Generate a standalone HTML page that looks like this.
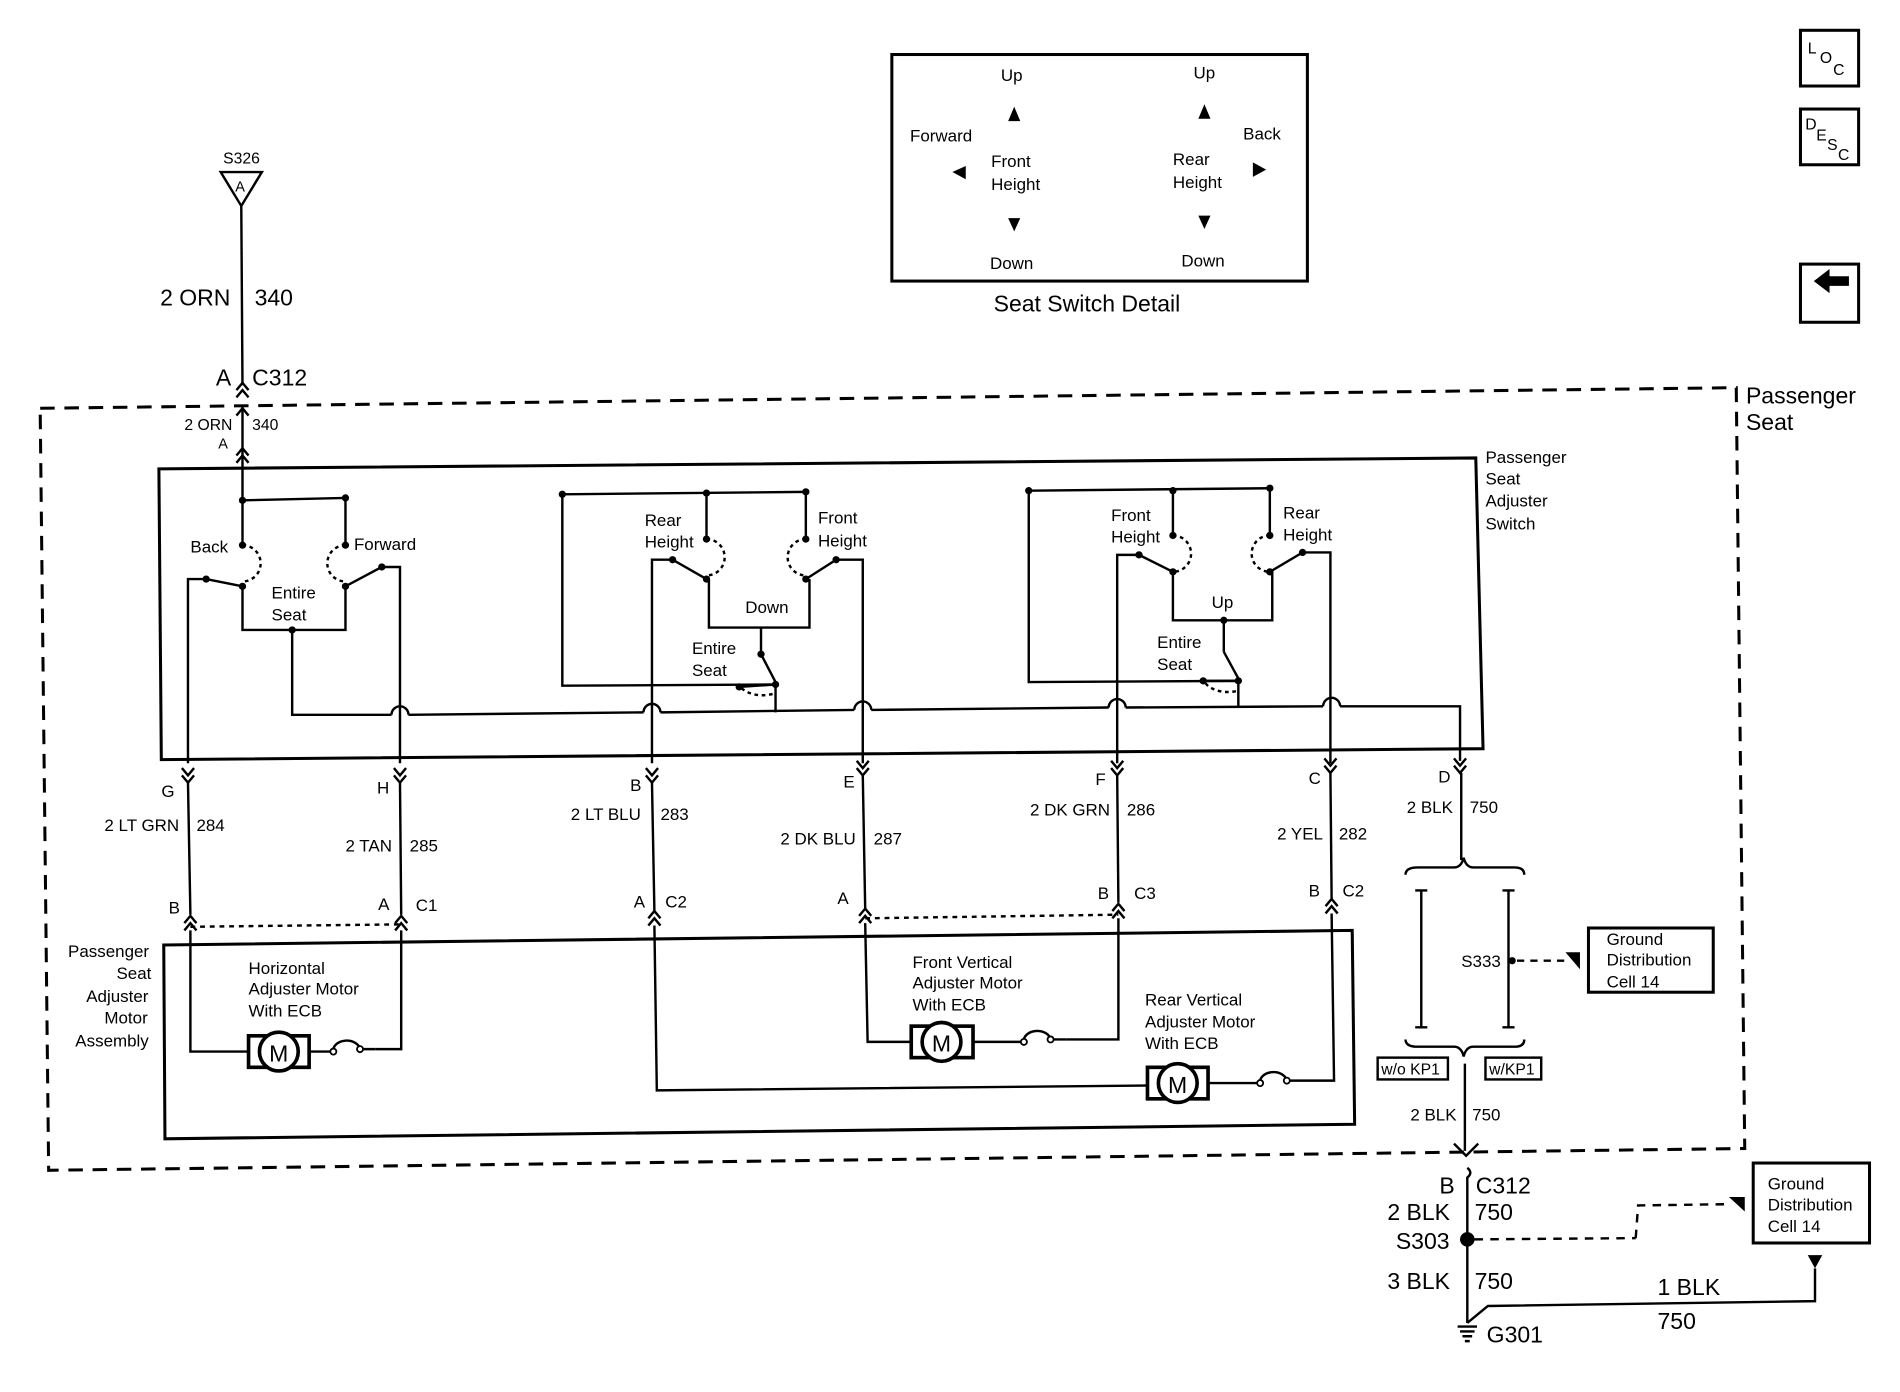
<!DOCTYPE html>
<html><head><meta charset="utf-8"><style>
html,body{margin:0;padding:0;background:#fff;}
svg{display:block;}
text{font-family:"Liberation Sans",sans-serif;fill:#000;}
</style></head><body>
<svg width="1900" height="1392" viewBox="0 0 1568 1149" xmlns="http://www.w3.org/2000/svg">
<g fill="none" stroke="#000" stroke-width="2">
<polygon points="33,337 1433,320 1440,948 40,966" stroke-dasharray="12,8" stroke-width="2.5"/>
<polygon points="131,387 1218,378 1224,618 133,627" stroke-width="2.5"/>
<polygon points="135,780 1116,768 1118,928 136,940" stroke-width="2.5"/>
<rect x="736" y="45" width="343" height="187" stroke-width="2.5"/>
<rect x="1486" y="25" width="48" height="46" stroke-width="2.5"/>
<rect x="1486" y="90" width="48" height="46" stroke-width="2.5"/>
<rect x="1486" y="218" width="48" height="48" stroke-width="2.5"/>
<polygon points="182,142 216,142 199,170"/>
<line x1="199" y1="170" x2="200" y2="318"/>
<path d="M195,322 L200,316 L205,322 M195,328 L200,322 L205,328"/>
<line x1="200" y1="336" x2="200" y2="413"/>
<path d="M195,343 L200,337 L205,343 M195,376 L200,370 L205,376 M195,382 L200,376 L205,382"/>
<polyline points="200,413 285,411"/>
<line x1="200" y1="413" x2="200" y2="450"/>
<line x1="285" y1="411" x2="285" y2="450"/>
<path d="M200,450 A15,15 0 0 1 200,480" stroke-dasharray="3,3"/>
<path d="M285,450 A15,15 0 0 0 285,480" stroke-dasharray="3,3"/>
<line x1="170" y1="478" x2="200" y2="484"/>
<polyline points="170,478 155,478 155,630"/>
<line x1="315" y1="468" x2="285" y2="484"/>
<polyline points="315,468 330,468 330,630"/>
<polyline points="200,484 200,520 285,520 285,484"/>
<polyline points="241,520 241,590 323,590"/>
<path d="M323,590 A7,7 0 0 1 337,590"/>
<polyline points="337,590 531,588"/>
<path d="M531,588 A7,7 0 0 1 545,588"/>
<polyline points="545,588 705,586"/>
<path d="M705,586 A7,7 0 0 1 719,586"/>
<polyline points="719,586 915,584"/>
<path d="M915,584 A7,7 0 0 1 929,584"/>
<polyline points="929,584 1092,583"/>
<path d="M1092,583 A7,7 0 0 1 1106,583"/>
<polyline points="1106,583 1205,583 1205,628"/>
<polyline points="464,408 665,406"/>
<polyline points="464,408 464,566 640,565"/>
<line x1="583" y1="407" x2="583" y2="445"/>
<line x1="665" y1="406" x2="665" y2="445"/>
<path d="M583,445 A15,15 0 0 1 583,475" stroke-dasharray="3,3"/>
<path d="M665,445 A15,15 0 0 0 665,475" stroke-dasharray="3,3"/>
<polyline points="583,478 555,462 538,462 538,630"/>
<polyline points="665,478 690,462 712,462 712,630"/>
<polyline points="585,478 585,518 668,518 668,478"/>
<line x1="628" y1="518" x2="628" y2="540"/>
<line x1="628" y1="540" x2="640" y2="563"/>
<line x1="610" y1="567" x2="640" y2="565"/>
<line x1="640" y1="565" x2="640" y2="588"/>
<path d="M612,568 A20,12 0 0 0 640,572" stroke-dasharray="3,3"/>
<polyline points="849,405 1048,403"/>
<polyline points="849,405 849,563 1022,562"/>
<line x1="968" y1="405" x2="968" y2="442"/>
<line x1="1048" y1="403" x2="1048" y2="442"/>
<path d="M968,442 A15,15 0 0 1 968,472" stroke-dasharray="3,3"/>
<path d="M1048,442 A15,15 0 0 0 1048,472" stroke-dasharray="3,3"/>
<polyline points="968,472 940,458 922,458 922,630"/>
<polyline points="1048,472 1075,456 1098,456 1098,630"/>
<polyline points="968,472 968,512 1050,512 1050,472"/>
<line x1="1010" y1="512" x2="1010" y2="538"/>
<line x1="1010" y1="538" x2="1022" y2="560"/>
<line x1="993" y1="562" x2="1022" y2="562"/>
<line x1="1022" y1="562" x2="1022" y2="583"/>
<path d="M995,564 A20,12 0 0 0 1022,570" stroke-dasharray="3,3"/>
<path d="M150,634 L155,640 L160,634 M150,640 L155,646 L160,640"/>
<path d="M325,634 L330,640 L335,634 M325,640 L330,646 L335,640"/>
<path d="M533,634 L538,640 L543,634 M533,640 L538,646 L543,640"/>
<path d="M707,628 L712,634 L717,628 M707,634 L712,640 L717,634"/>
<path d="M917,628 L922,634 L927,628 M917,634 L922,640 L927,634"/>
<path d="M1093,626 L1098,632 L1103,626 M1093,632 L1098,638 L1103,632"/>
<path d="M1200,626 L1205,632 L1210,626 M1200,632 L1205,638 L1210,632"/>
<line x1="155" y1="646" x2="157" y2="755"/>
<line x1="330" y1="646" x2="331" y2="755"/>
<line x1="538" y1="646" x2="540" y2="752"/>
<line x1="712" y1="640" x2="714" y2="750"/>
<line x1="922" y1="640" x2="923" y2="745"/>
<line x1="1098" y1="638" x2="1099" y2="742"/>
<path d="M152,762 L157,756 L162,762 M152,768 L157,762 L162,768"/>
<path d="M326,762 L331,756 L336,762 M326,768 L331,762 L336,768"/>
<path d="M535,758 L540,752 L545,758 M535,764 L540,758 L545,764"/>
<path d="M709,756 L714,750 L719,756 M709,762 L714,756 L719,762"/>
<path d="M918,752 L923,746 L928,752 M918,758 L923,752 L928,758"/>
<path d="M1094,748 L1099,742 L1104,748 M1094,754 L1099,748 L1104,754"/>
<line x1="157" y1="765" x2="331" y2="763" stroke-dasharray="4,4"/>
<line x1="714" y1="758" x2="923" y2="755" stroke-dasharray="4,4"/>
<polyline points="157,768 157,868 205,868"/>
<polyline points="331,768 331,866 310,866"/>
<path d="M255,868 L275,868 M310,866 L297,866" />
<path d="M275,868 A11,8 0 0 1 297,866"/>
<polyline points="714,762 716,860 752,860"/>
<polyline points="923,758 923,858 880,858"/>
<path d="M803,860 L845,860 M867,858 L880,858"/>
<path d="M845,860 A11,8 0 0 1 867,858"/>
<polyline points="540,764 542,900 947,896"/>
<polyline points="1099,754 1101,892 1070,892"/>
<path d="M997,894 L1040,894"/>
<path d="M1040,894 A11,8 0 0 1 1062,892 L1070,892"/>
</g>
<g fill="#fff" stroke="#000" stroke-width="1.5">
<circle cx="275" cy="868" r="2.5"/><circle cx="297" cy="866" r="2.5"/>
<circle cx="845" cy="860" r="2.5"/><circle cx="867" cy="858" r="2.5"/>
<circle cx="1040" cy="894" r="2.5"/><circle cx="1062" cy="892" r="2.5"/>
</g>
<g stroke="#000" stroke-width="3" fill="#fff">
<rect x="205" y="855" width="50" height="26"/><circle cx="230" cy="868" r="16"/>
<rect x="752" y="847" width="51" height="26"/><circle cx="777" cy="860" r="16"/>
<rect x="947" y="881" width="50" height="26"/><circle cx="972" cy="894" r="16"/>
</g>
<g fill="#000">
<circle cx="200" cy="413" r="3"/><circle cx="285" cy="411" r="3"/>
<circle cx="200" cy="450" r="3"/><circle cx="285" cy="450" r="3"/>
<circle cx="170" cy="478" r="3"/><circle cx="200" cy="484" r="3"/><circle cx="285" cy="484" r="3"/><circle cx="315" cy="468" r="3"/>
<circle cx="241" cy="520" r="3"/>
<circle cx="464" cy="408" r="3"/><circle cx="583" cy="407" r="3"/><circle cx="665" cy="406" r="3"/>
<circle cx="583" cy="445" r="3"/><circle cx="665" cy="445" r="3"/><circle cx="583" cy="478" r="3"/><circle cx="555" cy="462" r="3"/><circle cx="665" cy="478" r="3"/><circle cx="690" cy="462" r="3"/>
<circle cx="628" cy="540" r="3"/><circle cx="610" cy="567" r="3"/><circle cx="640" cy="565" r="3"/>
<circle cx="849" cy="405" r="3"/><circle cx="968" cy="405" r="3"/><circle cx="1048" cy="403" r="3"/>
<circle cx="968" cy="442" r="3"/><circle cx="1048" cy="442" r="3"/><circle cx="968" cy="472" r="3"/><circle cx="940" cy="458" r="3"/><circle cx="1048" cy="472" r="3"/><circle cx="1075" cy="456" r="3"/>
<circle cx="1010" cy="512" r="3"/><circle cx="993" cy="562" r="3"/><circle cx="1022" cy="562" r="3"/>
<circle cx="1248" cy="793" r="3"/>
<circle cx="1211" cy="1023" r="6"/>
<polygon points="832,100 842,100 837,88"/>
<polygon points="989,98 999,98 994,86"/>
<polygon points="832,180 842,180 837,191"/>
<polygon points="989,178 999,178 994,189"/>
<polygon points="797,137 797,148 786,142"/>
<polygon points="1034,134 1034,146 1045,140"/>
<polygon points="1292,786 1304,786 1304,800"/>
<polygon points="1427,988 1440,988 1440,1000"/>
<polygon points="1492,1036 1504,1036 1498,1047"/>
<polygon points="1497,232 1510,222 1510,228 1526,228 1526,236 1510,236 1510,242"/>
</g>
<g fill="none" stroke="#000" stroke-width="2">
<line x1="1206" y1="638" x2="1206" y2="710"/>
<path d="M1160,722 Q1160,716 1170,716 L1200,716 Q1206,716 1208,708 Q1210,716 1216,716 L1250,716 Q1258,716 1258,722"/>
<path d="M1160,858 Q1160,864 1170,864 L1200,864 Q1206,864 1208,872 Q1210,864 1216,864 L1250,864 Q1258,864 1258,858"/>
<path d="M1168,735 L1178,735 M1173,735 L1173,848 M1168,848 L1178,848"/>
<path d="M1240,735 L1250,735 M1245,735 L1245,848 M1240,848 L1250,848"/>
<line x1="1252" y1="793" x2="1292" y2="793" stroke-dasharray="6,5"/>
<rect x="1311" y="766" width="103" height="53" stroke-width="2.5"/>
<line x1="1209" y1="878" x2="1209" y2="950"/>
<path d="M1200,944 L1210,954 L1220,944"/>
<path d="M1211,964 Q1216,968 1211,972 L1211,1092"/>
<line x1="1217" y1="1023" x2="1350" y2="1022" stroke-dasharray="7,6"/>
<polyline points="1350,1022 1352,995 1425,994" stroke-dasharray="7,6"/>
<rect x="1447" y="960" width="96" height="66" stroke-width="2.5"/>
<polyline points="1498,1047 1498,1074 1228,1078 1211,1092"/>
<path d="M1203,1095 L1219,1095 M1205,1099 L1217,1099 M1207,1103 L1215,1103 M1209,1107 L1213,1107"/>
</g>
<g stroke="#000" stroke-width="2" fill="#fff">
<rect x="1137" y="873" width="58" height="18"/>
<rect x="1226" y="873" width="46" height="18"/>
</g>
<g font-size="14">
<text x="184" y="135" font-size="13">S326</text>
<text x="194" y="158" font-size="12">A</text>
<text x="132" y="252" font-size="19">2 ORN</text>
<text x="210" y="252" font-size="19">340</text>
<text x="178" y="318" font-size="19">A</text>
<text x="208" y="318" font-size="19">C312</text>
<text x="152" y="355" font-size="13">2 ORN</text><text x="208" y="355" font-size="13">340</text>
<text x="180" y="370" font-size="12">A</text>
<text x="826" y="67">Up</text><text x="985" y="65">Up</text>
<text x="751" y="117">Forward</text><text x="1026" y="115">Back</text>
<text x="818" y="138">Front</text><text x="818" y="157">Height</text>
<text x="968" y="136">Rear</text><text x="968" y="155">Height</text>
<text x="817" y="222">Down</text><text x="975" y="220">Down</text>
<text x="820" y="257" font-size="19">Seat Switch Detail</text>
<text x="1441" y="333" font-size="19">Passenger</text><text x="1441" y="355" font-size="19">Seat</text>
<text x="1226" y="382">Passenger</text><text x="1226" y="400">Seat</text><text x="1226" y="418">Adjuster</text><text x="1226" y="437">Switch</text>
<text x="157" y="456">Back</text><text x="292" y="454">Forward</text>
<text x="224" y="494">Entire</text><text x="224" y="512">Seat</text>
<text x="532" y="434">Rear</text><text x="532" y="452">Height</text>
<text x="675" y="432">Front</text><text x="675" y="451">Height</text>
<text x="615" y="506">Down</text>
<text x="571" y="540">Entire</text><text x="571" y="558">Seat</text>
<text x="917" y="430">Front</text><text x="917" y="448">Height</text>
<text x="1059" y="428">Rear</text><text x="1059" y="446">Height</text>
<text x="1000" y="502">Up</text>
<text x="955" y="535">Entire</text><text x="955" y="553">Seat</text>
<text x="133" y="658">G</text><text x="311" y="655">H</text><text x="520" y="653">B</text><text x="696" y="650">E</text><text x="904" y="648">F</text><text x="1080" y="647">C</text><text x="1187" y="646">D</text>
<text x="86" y="686">2 LT GRN</text><text x="162" y="686">284</text>
<text x="285" y="703">2 TAN</text><text x="338" y="703">285</text>
<text x="471" y="677">2 LT BLU</text><text x="545" y="677">283</text>
<text x="644" y="697">2 DK BLU</text><text x="721" y="697">287</text>
<text x="850" y="673">2 DK GRN</text><text x="930" y="673">286</text>
<text x="1054" y="693">2 YEL</text><text x="1105" y="693">282</text>
<text x="1161" y="671">2 BLK</text><text x="1213" y="671">750</text>
<text x="139" y="754">B</text><text x="312" y="751">A</text><text x="343" y="752">C1</text>
<text x="523" y="749">A</text><text x="549" y="749">C2</text>
<text x="691" y="746">A</text><text x="906" y="742">B</text><text x="936" y="742">C3</text>
<text x="1080" y="740">B</text><text x="1108" y="740">C2</text>
<text x="56" y="790">Passenger</text><text x="96" y="808">Seat</text><text x="71" y="827">Adjuster</text><text x="86" y="845">Motor</text><text x="62" y="864">Assembly</text>
<text x="205" y="804">Horizontal</text><text x="205" y="821">Adjuster Motor</text><text x="205" y="839">With ECB</text>
<text x="753" y="799">Front Vertical</text><text x="753" y="816">Adjuster Motor</text><text x="753" y="834">With ECB</text>
<text x="945" y="830">Rear Vertical</text><text x="945" y="848">Adjuster Motor</text><text x="945" y="866">With ECB</text>
<text x="222" y="876" font-size="19">M</text>
<text x="769" y="868" font-size="19">M</text>
<text x="964" y="902" font-size="19">M</text>
<text x="1206" y="798">S333</text>
<text x="1326" y="780">Ground</text><text x="1326" y="797">Distribution</text><text x="1326" y="815">Cell 14</text>
<text x="1140" y="887" font-size="13">w/o KP1</text><text x="1229" y="887" font-size="13">w/KP1</text>
<text x="1164" y="925">2 BLK</text><text x="1215" y="925">750</text>
<text x="1188" y="985" font-size="19">B</text><text x="1218" y="985" font-size="19">C312</text>
<text x="1145" y="1007" font-size="19">2 BLK</text><text x="1217" y="1007" font-size="19">750</text>
<text x="1152" y="1031" font-size="19">S303</text>
<text x="1145" y="1064" font-size="19">3 BLK</text><text x="1217" y="1064" font-size="19">750</text>
<text x="1368" y="1069" font-size="19">1 BLK</text><text x="1368" y="1097" font-size="19">750</text>
<text x="1227" y="1108" font-size="19">G301</text>
<text x="1459" y="982">Ground</text><text x="1459" y="999">Distribution</text><text x="1459" y="1017">Cell 14</text>
<text x="1492" y="44" font-size="13">L</text><text x="1502" y="52" font-size="13">O</text><text x="1513" y="62" font-size="13">C</text>
<text x="1490" y="107" font-size="13">D</text><text x="1499" y="116" font-size="13">E</text><text x="1508" y="124" font-size="13">S</text><text x="1517" y="132" font-size="13">C</text>
</g>
</svg>
</body></html>
